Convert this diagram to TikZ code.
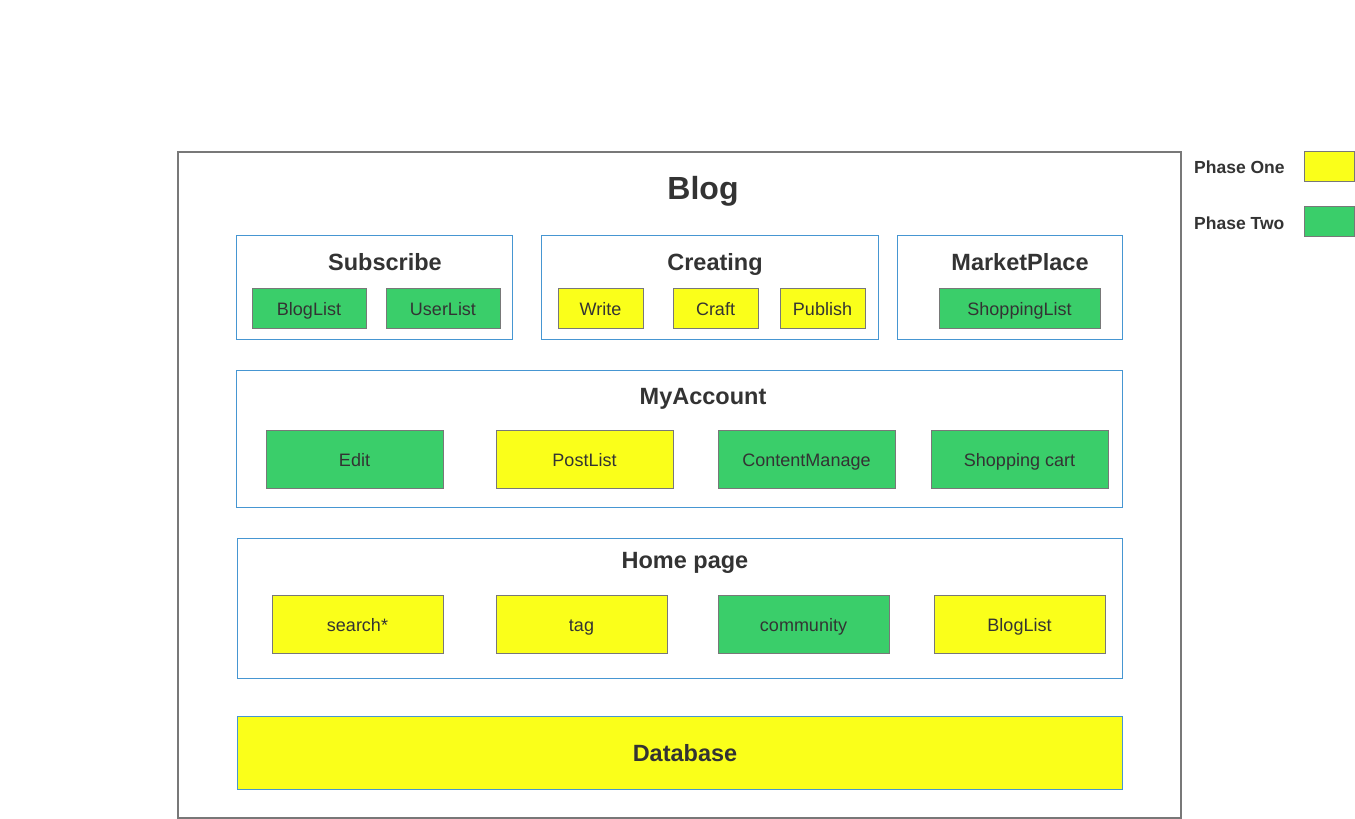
\documentclass[tikz,border=0pt]{standalone}
\usepackage{fontspec}
\setmainfont{Liberation Sans}
\definecolor{pgreen}{RGB}{58,206,106}
\definecolor{pyellow}{RGB}{250,255,26}
\definecolor{bblue}{RGB}{70,150,210}
\definecolor{bgrey}{RGB}{120,120,120}
\definecolor{txt}{RGB}{51,51,51}
\tikzset{
  px/.style={x=1pt,y=-1pt},
  group/.style={draw=bblue, line width=1pt, fill=white},
  itembox/.style={draw=bgrey, line width=1pt, text=txt, font=\fontsize{18}{20}\selectfont, text height=15pt, text depth=0pt, inner sep=0pt},
  ph1/.style={itembox, fill=pyellow},
  ph2/.style={itembox, fill=pgreen},
  gtitle/.style={text=txt, font=\fontsize{23.5}{26}\bfseries\selectfont, inner sep=0pt, anchor=base},
  legtext/.style={text=txt, font=\fontsize{17.5}{20}\bfseries\selectfont, anchor=base west, inner sep=0pt},
}
\begin{document}
\begin{tikzpicture}[px]
\useasboundingbox (0,0) rectangle (1355,819);
% outer frame
\draw[bgrey, line width=1.5pt] (178,152) rectangle (1181,818);
\node[text=txt, font=\fontsize{32}{36}\bfseries\selectfont, inner sep=0pt, anchor=base] (blog) at (703,199.5) {Blog};
% Subscribe
\draw[group] (236,235) rectangle (512,339);
\node[gtitle] (sub) at (385,270.5) {Subscribe};
\node[ph2, minimum width=114pt, minimum height=40pt] (bl1) at (309,308) {BlogList};
\node[ph2, minimum width=114pt, minimum height=40pt] (ul) at (443,308) {UserList};
% Creating
\draw[group] (541,235) rectangle (878,339);
\node[gtitle] (cre) at (715,270.5) {Creating};
\node[ph1, minimum width=85pt, minimum height=40pt] (wr) at (600.5,308) {Write};
\node[ph1, minimum width=85pt, minimum height=40pt] (cr) at (715.5,308) {Craft};
\node[ph1, minimum width=85pt, minimum height=40pt] (pu) at (822.5,308) {Publish};
% MarketPlace
\draw[group] (897,235) rectangle (1122,339);
\node[gtitle] (mp) at (1020,270.5) {MarketPlace};
\node[ph2, minimum width=161pt, minimum height=40pt] (sl) at (1019.5,308) {ShoppingList};
% MyAccount
\draw[group] (236,370) rectangle (1122,507);
\node[gtitle] (ma) at (703,404.5) {MyAccount};
\node[ph2, minimum width=177pt, minimum height=58pt] (ed) at (354.5,459) {Edit};
\node[ph1, minimum width=177pt, minimum height=58pt] (pl) at (584.5,459) {PostList};
\node[ph2, minimum width=177pt, minimum height=58pt] (cm) at (806.5,459) {ContentManage};
\node[ph2, minimum width=177pt, minimum height=58pt] (sc) at (1019.5,459) {Shopping cart};
% Home page
\draw[group] (237,538) rectangle (1122,678);
\node[gtitle] (hp) at (685,568.5) {Home page};
\node[ph1, minimum width=171pt, minimum height=58pt] (se) at (357.5,624) {search*};
\node[ph1, minimum width=171pt, minimum height=58pt] (tg) at (581.5,624) {tag};
\node[ph2, minimum width=171pt, minimum height=58pt] (co) at (803.5,624) {community};
\node[ph1, minimum width=171pt, minimum height=58pt] (bl2) at (1019.5,624) {BlogList};
% Database
\node[draw=bblue, line width=1pt, fill=pyellow, minimum width=885pt, minimum height=73pt, inner sep=0pt] (db) at (679.5,752.5) {};
\node[gtitle] (dbt) at (685,761.5) {Database};
% Legend
\node[legtext] (l1) at (1194,173.5) {Phase One};
\node[draw=bgrey, line width=1pt, fill=pyellow, minimum width=50pt, minimum height=30pt, inner sep=0pt] (lb1) at (1329,166) {};
\node[legtext] (l2) at (1194,229.5) {Phase Two};
\node[draw=bgrey, line width=1pt, fill=pgreen, minimum width=50pt, minimum height=30pt, inner sep=0pt] (lb2) at (1329,221) {};
\end{tikzpicture}
\end{document}
